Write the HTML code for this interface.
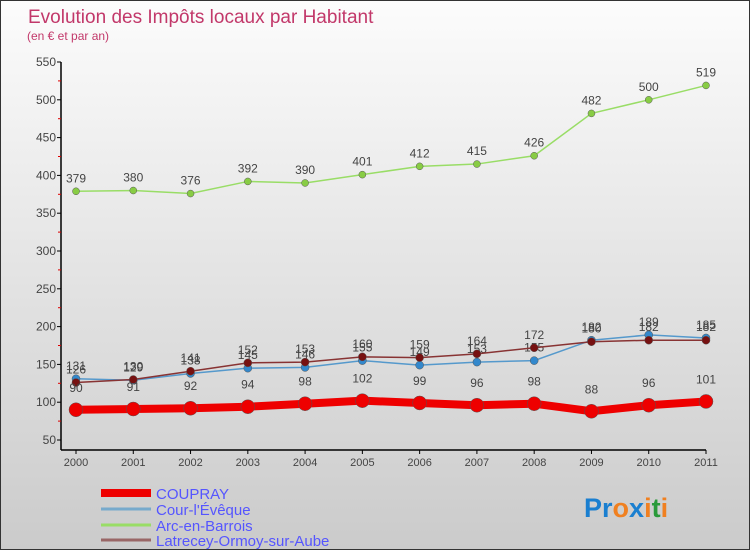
<!DOCTYPE html>
<html><head><meta charset="utf-8"><style>
body{margin:0;}
#c{width:748px;height:548px;border:1px solid #333;background:linear-gradient(#fcfcfc,#cbcbcb);position:relative;overflow:hidden;font-family:"Liberation Sans",sans-serif;}
svg{position:absolute;left:0;top:0;}
</style></head><body>
<div id="c">
<svg id="s" width="750" height="550">
<text x="27" y="22" font-size="19" fill="#c2386a">Evolution des Impôts locaux par Habitant</text>
<text x="26" y="39" font-size="12" fill="#c2386a">(en € et par an)</text>
<text x="583" y="516" font-size="27" font-weight="bold"><tspan fill="#1a7fd0">Pr</tspan><tspan fill="#f08020">o</tspan><tspan fill="#1a7fd0">x</tspan><tspan fill="#f08020">i</tspan><tspan fill="#2a9a3a">t</tspan><tspan fill="#f08020">i</tspan></text>
</svg></div>
<script>
const years=[2000,2001,2002,2003,2004,2005,2006,2007,2008,2009,2010,2011];
const coupray=[90,91,92,94,98,102,99,96,98,88,96,101];
const cour=[131,129,138,145,146,155,149,153,155,182,189,185];
const arc=[379,380,376,392,390,401,412,415,426,482,500,519];
const latrecey=[126,130,141,152,153,160,159,164,172,180,182,182];
const yTicks=[50,100,150,200,250,300,350,400,450,500,550];
const names=["COUPRAY","Cour-l'Évêque","Arc-en-Barrois","Latrecey-Ormoy-sur-Aube"];
const NS="http://www.w3.org/2000/svg";
const svg=document.getElementById('s');
const X=i=>75+i*(705-75)/(years.length-1);
const Y=v=>439-(v-50)*(439-61)/500;
function mk(t,a,p){const e=document.createElementNS(NS,t);for(const k in a)e.setAttribute(k,a[k]);(p||svg).appendChild(e);return e;}
let e;
e=mk('line',{x1:60,y1:61,x2:60,y2:449,stroke:'#000','stroke-width':1.5});


e=mk('line',{x1:60,y1:449,x2:705,y2:449,stroke:'#000','stroke-width':1.5});


yTicks.forEach(v=>{
  mk('line',{x1:56,y1:Y(v),x2:60,y2:Y(v),stroke:'#000'});
  if(v<550)mk('line',{x1:57,y1:Y(v+25),x2:60,y2:Y(v+25),stroke:'#d00'});
  e=mk('text',{x:55,y:Y(v)+4,'font-size':12,fill:'#444','text-anchor':'end'});
  e.textContent=v;
  
  
});
years.forEach((y,i)=>{
  mk('line',{x1:X(i),y1:449,x2:X(i),y2:453,stroke:'#000'});
  e=mk('text',{x:X(i),y:465,'font-size':11,fill:'#444','text-anchor':'middle'});
  e.textContent=y;
  
  
});
const series=[
 {d:arc,c:'#99dd66',f:'#88cc44',w:1.5,r:3.5,n:'arc-en-barrois',off:-9},
 {d:cour,c:'#5599cc',f:'#3388cc',w:1.5,r:4,n:'cour-l-eveque',off:-9},
 {d:latrecey,c:'#883333',f:'#771111',w:1.5,r:4,n:'latrecey',off:-9},
 {d:coupray,c:'#ee0000',f:'#ee0000',w:8,r:7,n:'coupray',off:-18}];
series.forEach(s=>{
  e=mk('polyline',{points:s.d.map((v,i)=>X(i)+','+Y(v)).join(' '),fill:'none',stroke:s.c,'stroke-width':s.w});
  
  
  s.d.forEach((v,i)=>{
    e=mk('circle',{cx:X(i),cy:Y(v),r:s.r,fill:s.f,stroke:'#555','stroke-width':0.5});
    
    
    e=mk('text',{x:X(i),y:Y(v)+s.off,'font-size':12,fill:'#444','text-anchor':'middle'});
    e.textContent=v;
    
    
  });
});
const lc=['#ee0000','#77aacc','#99dd66','#996666'],lw=[8,3,3,3],ly=[492,508,524,539];
names.forEach((n,i)=>{
  e=mk('line',{x1:100,y1:ly[i],x2:150,y2:ly[i],stroke:lc[i],'stroke-width':lw[i]});
  
  
  e=mk('text',{x:155,y:ly[i]+6,'font-size':15,fill:'#5555ff'});
  e.textContent=n;
  
  
});
</script>
</body></html>
